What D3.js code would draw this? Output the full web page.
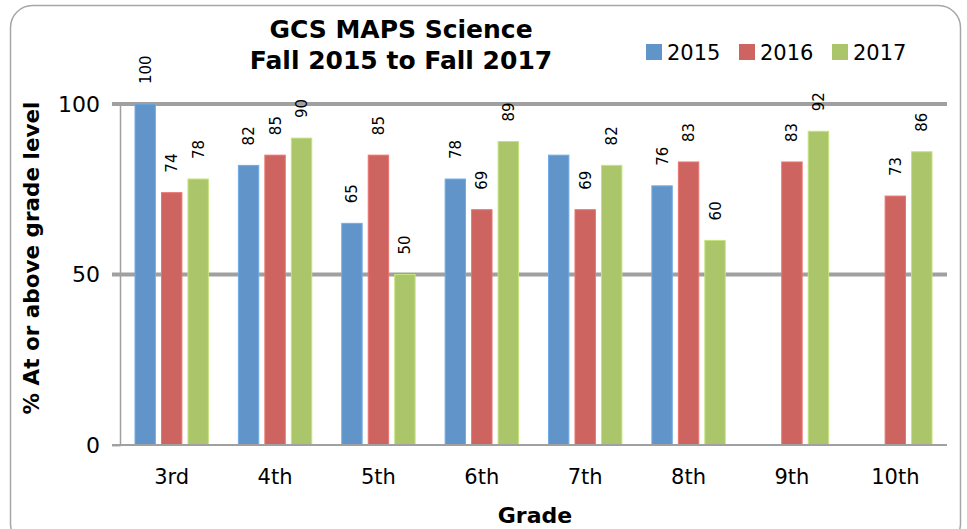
<!DOCTYPE html>
<html>
<head>
<meta charset="utf-8">
<script src="https://cdn.jsdelivr.net/npm/d3@7"></script>
<style>
  body { margin: 0; background: #fff; }
  text { font-family: "DejaVu Sans", sans-serif; fill: #000; }
</style>
</head>
<body>
<svg id="chart" width="967" height="529"></svg>
<script>
var grades = ["3rd", "4th", "5th", "6th", "7th", "8th", "9th", "10th"];
var years = ["2015", "2016", "2017"];
var v2015 = [100, 82, 65, 78, 85, 76, null, null];
var v2016 = [74, 85, 85, 69, 69, 83, 83, 73];
var v2017 = [78, 90, 50, 89, 82, 60, 92, 86];
// the 7th grade 2015 bar carries no label in the original
var showLabel2015 = [true, true, true, true, false, true, true, true];
var yTicks = [0, 50, 100];
var colors = ["#6195c9", "#cd6460", "#abc56b"];

var svg = d3.select("#chart"),
	margin = {top: 104, right: 20, bottom: 84, left: 120},
	width = 947 - margin.left,
	height = 445 - margin.top;

// frame
svg.append("rect")
	.attr("x", 10.5).attr("y", 5.5)
	.attr("width", 950).attr("height", 540)
	.attr("rx", 22).attr("ry", 22)
	.attr("fill", "none").attr("stroke", "#a6a6a6").attr("stroke-width", 1.5);

var g = svg.append("g")
	.attr("transform", "translate(" + margin.left + "," + margin.top + ")");

var x0 = d3.scaleBand().domain(grades).range([0, width]).padding(0);
var x1 = d3.scaleBand().domain(years).range([15, x0.bandwidth() - 15]).paddingInner(0.23);
var y = d3.scaleLinear().domain([0, 100]).range([height, 0]);

var data = [];
grades.forEach(function(gr, i) {
	data.push({grade: gr, year: "2015", value: v2015[i], label: showLabel2015[i]});
	data.push({grade: gr, year: "2016", value: v2016[i], label: true});
	data.push({grade: gr, year: "2017", value: v2017[i], label: true});
});
data = data.filter(function(d) { return d.value != null; });

// gridlines at 50 and 100
g.selectAll(".grid")
	.data(yTicks.filter(function(t) { return t > 0; }))
  .enter().append("line")
	.attr("x1", -8).attr("x2", width)
	.attr("y1", function(d) { return y(d); })
	.attr("y2", function(d) { return y(d); })
	.attr("stroke", "#a0a0a0").attr("stroke-width", 4);

// y axis
var yAxis = g.append("g")
	.call(d3.axisLeft(y).tickValues(yTicks).tickSize(8).tickPadding(12));
yAxis.select(".domain").attr("stroke", "#a0a0a0").attr("stroke-width", 1.5);
yAxis.selectAll(".tick line").attr("stroke", "#a0a0a0").attr("stroke-width", 1.5);
yAxis.selectAll(".tick text").style("font-size", "22px");

// bars
g.selectAll(".bar")
	.data(data)
  .enter().append("rect")
	.attr("class", "bar")
	.attr("x", function(d) { return x0(d.grade) + x1(d.year); })
	.attr("width", x1.bandwidth())
	.attr("y", function(d) { return y(d.value); })
	.attr("height", function(d) { return height - y(d.value); })
	.attr("fill", function(d) { return colors[years.indexOf(d.year)]; })
	.attr("stroke", function(d) { return d3.color(colors[years.indexOf(d.year)]).brighter(0.4); })
	.attr("stroke-width", 1);

// value labels
g.selectAll(".lbl")
	.data(data.filter(function(d) { return d.label; }))
  .enter().append("text")
	.attr("class", "lbl")
	.attr("transform", function(d) {
		return "translate(" + (x0(d.grade) + x1(d.year) + x1.bandwidth() / 2 + 5.5) + "," + (y(d.value) - 20) + ") rotate(-90)";
	})
	.style("font-size", "15px")
	.text(function(d) { return d.value; });

// x axis
var xAxis = g.append("g")
	.attr("transform", "translate(0," + height + ")")
	.call(d3.axisBottom(x0).tickSize(0).tickPadding(24));
xAxis.select(".domain").remove();
xAxis.selectAll(".tick text").style("font-size", "21px");
g.append("line")
	.attr("x1", -8).attr("x2", width)
	.attr("y1", height).attr("y2", height)
	.attr("stroke", "#a0a0a0").attr("stroke-width", 2);

// titles
svg.append("text").attr("x", 401).attr("y", 38).attr("text-anchor", "middle")
	.style("font-size", "25px").style("font-weight", "bold").text("GCS MAPS Science");
svg.append("text").attr("x", 401).attr("y", 69).attr("text-anchor", "middle")
	.style("font-size", "25px").style("font-weight", "bold").text("Fall 2015 to Fall 2017");
svg.append("text").attr("x", 535).attr("y", 523).attr("text-anchor", "middle")
	.style("font-size", "22px").style("font-weight", "bold").text("Grade");
svg.append("text")
	.attr("transform", "translate(39,258) rotate(-90)")
	.attr("text-anchor", "middle")
	.style("font-size", "21.5px").style("font-weight", "bold")
	.text("% At or above grade level");

// legend
var legX = [646, 739, 832];
var leg = svg.selectAll(".leg")
	.data(years)
  .enter().append("g")
	.attr("transform", function(d, i) { return "translate(" + legX[i] + ",44)"; });
leg.append("rect").attr("width", 16).attr("height", 16)
	.attr("fill", function(d, i) { return colors[i]; });
leg.append("text").attr("x", 21).attr("y", 16)
	.style("font-size", "21px")
	.text(function(d) { return d; });
</script>
</body>
</html>
